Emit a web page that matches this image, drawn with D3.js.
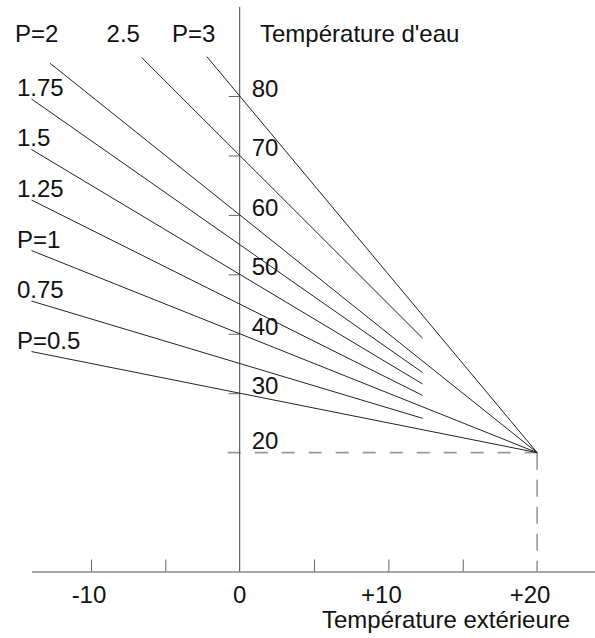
<!DOCTYPE html>
<html>
<head>
<meta charset="utf-8">
<script src="https://cdn.jsdelivr.net/npm/d3@7"></script>
<style>
  body { margin: 0; background: #fff; }
  text { font-family: "Liberation Sans", Arial, sans-serif; font-size: 24px; fill: #111; }
</style>
</head>
<body>
<script>
// heating curves: slope P, all meeting at outside 20 / water 20
var pValues = [0.5, 0.75, 1, 1.25, 1.5, 1.75, 2, 2.5, 3];
var pLabels = ["P=0.5", "0.75", "P=1", "1.25", "1.5", "1.75", "P=2", "2.5", "P=3"];
var startX = [-14, -14, -14, -14, -14, -14, -12.75, -6.6, -2.2];
var endX = [20, 12.3, 20, 12.3, 12.3, 12.3, 20, 12.3, 20];
var pivot = 20;

var xTicks = [-10, -5, 5, 10, 15];
var xLabelValues = [-10, 0, 10, 20];
var xLabelText = ["-10", "0", "+10", "+20"];
var yTicks = [30, 40, 50, 60, 70, 80];
var yLabelValues = [20, 30, 40, 50, 60, 70, 80];

var width = 595, height = 638;

var x = d3.scaleLinear().domain([-14, 24]).range([31.5, 596.6]);
var y = d3.scaleLinear().domain([0, 80]).range([571.5, 96]);

var svg = d3.select("body").append("svg")
    .attr("width", width)
    .attr("height", height);

function water(p, t) { return pivot + p * (pivot - t); }

// dashed guides to the pivot point
svg.append("line")
    .attr("x1", x(0) - 12).attr("x2", x(pivot))
    .attr("y1", y(pivot)).attr("y2", y(pivot))
    .attr("stroke", "#999").attr("stroke-width", 1.6)
    .attr("stroke-dasharray", "13,14");
svg.append("line")
    .attr("x1", x(pivot)).attr("x2", x(pivot))
    .attr("y1", y(pivot)).attr("y2", y(0))
    .attr("stroke", "#999").attr("stroke-width", 1.6)
    .attr("stroke-dasharray", "17,10");

// x axis
var xAxis = d3.axisBottom(x)
    .tickValues(xTicks)
    .tickSizeInner(-12)
    .tickSizeOuter(0)
    .tickFormat("");
var gx = svg.append("g")
    .attr("transform", "translate(0," + y(0) + ")")
    .call(xAxis);
gx.select(".domain").attr("stroke", "#888").attr("stroke-width", 1.5);
gx.selectAll(".tick line").attr("stroke", "#666");

// y axis
svg.append("line")
    .attr("x1", x(0)).attr("x2", x(0))
    .attr("y1", y(95)).attr("y2", y(0))
    .attr("stroke", "#444").attr("stroke-width", 1);

var yAxis = d3.axisLeft(y)
    .tickValues(yTicks)
    .tickSizeInner(11)
    .tickSizeOuter(0)
    .tickFormat("");
var gy = svg.append("g")
    .attr("transform", "translate(" + x(0) + ",0)")
    .call(yAxis);
gy.select(".domain").remove();
gy.selectAll(".tick line").attr("stroke", "#666");

// curves
svg.selectAll(".curve")
    .data(pValues)
  .enter().append("line")
    .attr("class", "curve")
    .attr("x1", function(d, i) { return x(startX[i]); })
    .attr("y1", function(d, i) { return y(water(d, startX[i])); })
    .attr("x2", function(d, i) { return x(endX[i]); })
    .attr("y2", function(d, i) { return y(water(d, endX[i])); })
    .attr("stroke", "#222")
    .attr("stroke-width", 1);

// curve labels: top row for the steep ones, left column for the rest
svg.selectAll(".plabel")
    .data(pValues)
  .enter().append("text")
    .attr("class", "plabel")
    .attr("x", function(d, i) { return d >= 2 ? x(startX[i]) - 35 : 17; })
    .attr("y", function(d, i) { return d >= 2 ? 42 : y(water(d, startX[i])) - 3; })
    .text(function(d, i) { return pLabels[i]; });

// y labels
svg.selectAll(".ylabel")
    .data(yLabelValues)
  .enter().append("text")
    .attr("class", "ylabel")
    .attr("x", x(0) + 12)
    .attr("y", function(d) { return y(d) + (d === pivot ? -4 : 1); })
    .text(function(d) { return d; });

// x labels, digits centred on the tick
svg.selectAll(".xlabel")
    .data(xLabelValues)
  .enter().append("text")
    .attr("class", "xlabel")
    .attr("x", function(d) { return x(d); })
    .attr("y", 603)
    .attr("text-anchor", "middle")
    .attr("dx", function(d, i) { return xLabelText[i].charAt(0) === "+" ? -7 : (d < 0 ? -2 : 0); })
    .text(function(d, i) { return xLabelText[i]; });

// axis titles
svg.append("text")
    .attr("x", 260).attr("y", 42)
    .text("Température d'eau");
svg.append("text")
    .attr("x", 322).attr("y", 628)
    .text("Température extérieure");
</script>
</body>
</html>
